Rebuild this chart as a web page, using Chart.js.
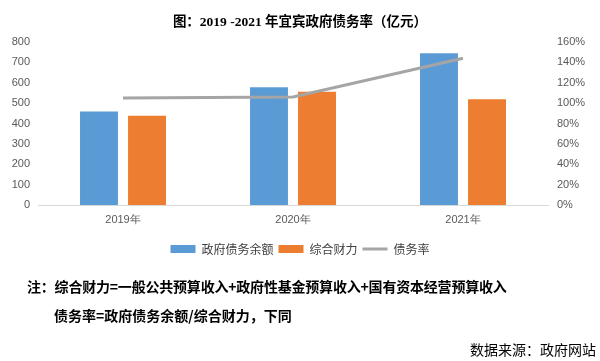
<!DOCTYPE html>
<html>
<head>
<meta charset="utf-8">
<script src="https://cdn.jsdelivr.net/npm/chart.js@4/dist/chart.umd.min.js"></script>
<style>
  html, body { margin: 0; padding: 0; background: #fff; }
  .wrap { position: relative; width: 600px; height: 361px; overflow: hidden; }
  canvas { position: absolute; left: 0; top: 0; }
  .txt { position: absolute; white-space: nowrap; line-height: 1; }
  .title { left: 0; width: 600px; top: 10px; text-align: center; font: bold 13.5px "Liberation Serif", "Noto Sans CJK SC"; color: #000; }
  .note { font: bold 14px "Noto Sans CJK SC"; color: #000; }
  .src { font: 14px "Noto Sans CJK SC"; color: #000; }
</style>
</head>
<body>
<div class="wrap">
  <canvas id="chart" width="600" height="361"></canvas>
  <div class="txt title">图：2019 -2021 年宜宾政府债务率（亿元）</div>
  <div class="txt note" style="left:27px; top:276px; letter-spacing:-0.2px;">注：综合财力=一般公共预算收入+政府性基金预算收入+国有资本经营预算收入</div>
  <div class="txt note" style="left:54px; top:305px;">债务率=政府债务余额/综合财力，下同</div>
  <div class="txt src" style="right:4px; top:339px;">数据来源：政府网站</div>
</div>
<script>
const years = ["2019年", "2020年", "2021年"];
const debtBalance = [459, 578, 745];     // 政府债务余额
const totalRevenue = [438, 556, 519];    // 综合财力
const debtRatio = [105, 106, 144];       // 债务率 (%)

const tickColor = "#595959";
const tickFont = { family: "Liberation Sans", size: 11 };

new Chart(document.getElementById("chart"), {
  type: "bar",
  data: {
    labels: years,
    datasets: [
      {
        label: "政府债务余额",
        data: debtBalance,
        backgroundColor: "#5B9BD5",
        borderWidth: 0,
        yAxisID: "y",
        order: 1,
        categoryPercentage: 0.565,
        barPercentage: 0.79,
      },
      {
        label: "综合财力",
        data: totalRevenue,
        backgroundColor: "#ED7D31",
        borderWidth: 0,
        yAxisID: "y",
        order: 1,
        categoryPercentage: 0.565,
        barPercentage: 0.79,
      },
      {
        type: "line",
        label: "债务率",
        data: debtRatio,
        borderColor: "#A5A5A5",
        backgroundColor: "#A5A5A5",
        borderWidth: 3,
        pointRadius: 0,
        tension: 0,
        yAxisID: "y1",
        order: 0,
      },
    ],
  },
  options: {
    responsive: false,
    animation: false,
    layout: { padding: { top: 42, left: 0, right: 0, bottom: 96 } },
    plugins: {
      title: { display: false },
      tooltip: { enabled: false },
      legend: {
        position: "bottom",
        labels: {
          usePointStyle: true,
          pointStyleWidth: 25,
          boxHeight: 8,
          padding: 5,
          color: "#404040",
          font: { family: "Noto Sans CJK SC", size: 12 },
          generateLabels(chart) {
            const items = Chart.defaults.plugins.legend.labels.generateLabels(chart);
            items.sort((a, b) => a.datasetIndex - b.datasetIndex);
            items.forEach((it) => {
              const ds = chart.data.datasets[it.datasetIndex];
              if (ds.type === "line") {
                it.pointStyle = "line";
                it.lineWidth = 3;
                it.strokeStyle = ds.borderColor;
              } else {
                it.pointStyle = "rect";
                it.fillStyle = ds.backgroundColor;
                it.strokeStyle = ds.backgroundColor;
                it.lineWidth = 0;
              }
            });
            return items;
          },
        },
      },
    },
    scales: {
      x: {
        grid: { display: false, drawTicks: false },
        border: { display: true, color: "#D9D9D9", width: 1 },
        ticks: { color: tickColor, font: tickFont, padding: 8 },
        afterFit(s) { s.height = 33; },
      },
      y: {
        position: "left",
        min: 0,
        max: 800,
        ticks: { stepSize: 100, color: tickColor, font: tickFont, padding: 8 },
        grid: { display: false, drawTicks: false },
        border: { display: false },
        afterFit(s) { s.width = 38; },
      },
      y1: {
        position: "right",
        min: 0,
        max: 160,
        ticks: {
          stepSize: 20,
          color: tickColor,
          font: tickFont,
          padding: 9,
          callback: (v) => v + "%",
        },
        grid: { display: false, drawTicks: false },
        border: { display: false },
        afterFit(s) { s.width = 52; },
      },
    },
  },
});
</script>
</body>
</html>
